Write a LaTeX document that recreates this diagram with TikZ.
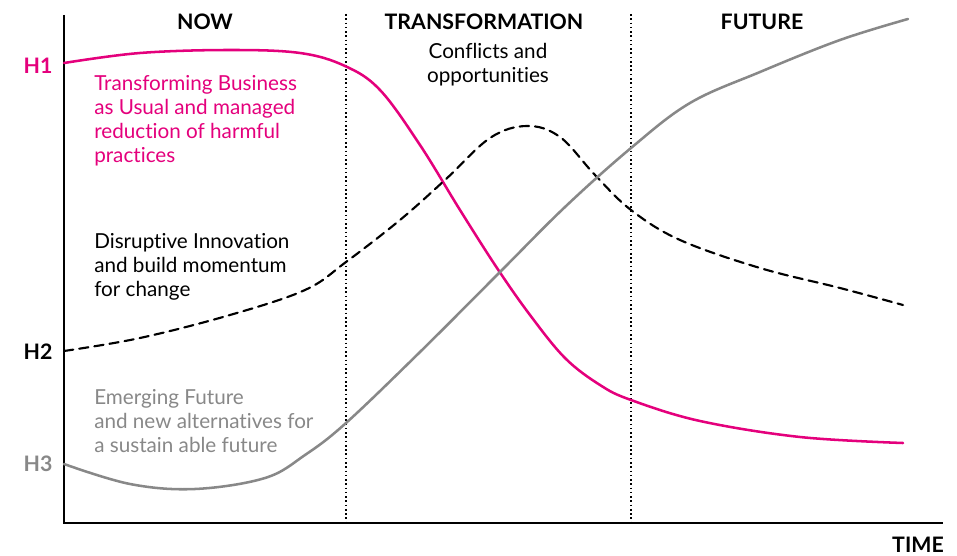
\documentclass[tikz,border=0pt]{standalone}
\usepackage{fontspec}
\setmainfont[Ligatures=NoCommon]{Lato}
\definecolor{hmag}{RGB}{228,0,124}
\definecolor{hgray}{RGB}{136,136,136}
\begin{document}
\begin{tikzpicture}[x=0.75pt,y=-0.75pt,
  curve/.style={line width=1.9pt,line cap=round},
  axis/.style={line width=1pt},
  divider/.style={line width=1.2pt,dotted},
  phase/.style={font=\fontsize{16}{18}\selectfont\bfseries},
  hlabel/.style={font=\fontsize{16}{18}\selectfont\bfseries,anchor=center},
  note/.style={font=\fontsize{15.5}{18}\selectfont,align=left,anchor=north west,inner sep=0pt}]
\useasboundingbox (0,0) rectangle (957,556);

% axes
\coordinate (o) at (64,523);
\coordinate (ytop) at (64,15);
\coordinate (xend) at (943,523);
\draw[axis] (ytop) -- (o) -- (xend);

% phase dividers
\coordinate (d1t) at (346,14);
\coordinate (d1b) at (346,523);
\coordinate (d2t) at (631,14);
\coordinate (d2b) at (631,523);
\draw[divider] (d1t) -- (d1b);
\draw[divider] (d2t) -- (d2b);

% phase headings
\node[phase] (now) at (205,22) {NOW};
\node[phase] (trans) at (484,22) {TRANSFORMATION};
\node[phase] (fut) at (762,22) {FUTURE};
\node[font=\fontsize{15.5}{18}\selectfont,align=center] (conf) at (488,65) {Conflicts and\\opportunities};
\node[hlabel] (time) at (918,545) {TIME};

% horizon labels
\node[hlabel,text=hmag] (h1) at (38,66) {H1};
\node[hlabel] (h2) at (38,352) {H2};
\node[hlabel,text=hgray] (h3) at (38,464) {H3};

% horizon 1
\draw[curve,hmag] plot[smooth,tension=0.6] coordinates {
  (64,63) (140,53) (230,50) (300,53) (345,66) (380,90) (420,145)
  (460,210) (497,268) (530,315) (565,358) (600,385) (631,400)
  (700,421) (800,437) (903,443)};

% horizon 2
\draw[curve,line width=1.6pt,dashed,dash pattern=on 7pt off 4.5pt] plot[smooth,tension=0.6] coordinates {
  (64,351) (140,338) (230,315) (305,290) (346,262) (400,220)
  (445,180) (490,138) (527,126) (560,137) (595,175) (631,210)
  (680,240) (760,268) (840,288) (903,305)};

% horizon 3
\draw[curve,hgray] plot[smooth,tension=0.6] coordinates {
  (64,464) (130,484) (195,489) (265,478) (305,455) (346,423)
  (420,352) (500,272) (565,207) (631,148) (690,103) (760,72)
  (840,40) (908,19)};

% descriptions
\node[note,text=hmag] (t1) at (94,75) {Transforming Business\\as Usual and managed\\reduction of harmful\\practices};
\node[note] (t2) at (94,233) {Disruptive Innovation\\and build momentum\\for change};
\node[note,text=hgray] (t3) at (94,389) {Emerging Future\\and new alternatives for\\a sustain able future};
\end{tikzpicture}
\end{document}
